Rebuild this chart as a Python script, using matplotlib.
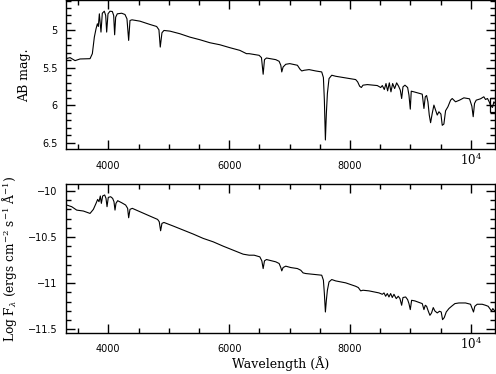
import matplotlib
matplotlib.use("Agg")
import matplotlib.pyplot as plt
from matplotlib.ticker import FixedLocator, MultipleLocator
from matplotlib.transforms import blended_transform_factory, ScaledTranslation

plt.rcParams['axes.unicode_minus'] = True
plt.rcParams['mathtext.fontset'] = 'dejavuserif'

# ---- data: AB magnitude spectrum (top panel) ----
wave_ab = [3301, 3367, 3450, 3532, 3698, 3736, 3769, 3797, 3819, 3835, 3852, 3879, 3901, 3934, 3957,
           3973, 3995, 4028, 4067, 4089, 4105, 4122, 4149, 4221, 4276, 4309, 4337, 4359, 4392, 4524,
           4689, 4800, 4838, 4860, 4888, 4921, 5020, 5185, 5350, 5516, 5681, 5846, 6011, 6177, 6287,
           6331, 6496, 6535, 6563, 6585, 6618, 6772, 6827, 6855, 6871, 6893, 6937, 7003, 7130, 7174,
           7202, 7240, 7323, 7433, 7532, 7560, 7576, 7593, 7609, 7626, 7653, 7698, 7764, 7929, 8094,
           8127, 8160, 8188, 8215, 8287, 8452, 8508, 8535, 8568, 8596, 8623, 8651, 8678, 8706, 8739,
           8772, 8805, 8833, 8855, 8877, 8910, 8954, 8976, 8998, 9014, 9058, 9196, 9224, 9246, 9268,
           9290, 9312, 9334, 9361, 9389, 9416, 9444, 9472, 9505, 9527, 9554, 9582, 9621, 9665, 9692,
           9747, 9813, 9885, 9978, 10017, 10039, 10061, 10089, 10160, 10215, 10243, 10276, 10304,
           10331, 10359, 10381, 10403]
ab_mag = [5.377, 5.363, 5.403, 5.381, 5.377, 5.310, 5.089, 4.978, 4.911, 4.947, 4.778, 5.022, 4.770, 4.743, 4.800,
          5.022, 4.778, 4.743, 4.747, 4.800, 5.058, 4.823, 4.778, 4.770, 4.787, 4.845, 5.133, 4.867, 4.858, 4.876,
          4.920, 4.947, 4.991, 5.222, 5.031, 5.000, 5.009, 5.044, 5.089, 5.124, 5.164, 5.191, 5.230, 5.266, 5.310,
          5.310, 5.332, 5.363, 5.585, 5.390, 5.368, 5.390, 5.412, 5.465, 5.554, 5.488, 5.452, 5.443, 5.465, 5.519,
          5.541, 5.532, 5.523, 5.541, 5.554, 5.629, 5.931, 6.463, 6.108, 5.842, 5.643, 5.598, 5.612, 5.634, 5.656,
          5.687, 5.745, 5.762, 5.731, 5.723, 5.736, 5.762, 5.736, 5.789, 5.709, 5.807, 5.700, 5.820, 5.709, 5.776,
          5.700, 5.745, 5.798, 5.909, 5.753, 5.731, 5.762, 5.864, 6.051, 5.811, 5.820, 5.851, 6.042, 5.886, 5.869,
          5.953, 6.130, 6.232, 6.108, 5.997, 6.064, 6.130, 6.086, 6.117, 6.267, 6.250, 6.072, 6.019, 5.931, 5.909,
          5.953, 5.931, 5.900, 5.913, 6.011, 6.152, 5.975, 5.931, 5.913, 5.886, 5.922, 5.909, 5.953,
          6.011, 6.028, 5.953, 5.975]

# ---- data: log F_lambda spectrum (bottom panel) ----
wave_fl = [3311, 3394, 3477, 3587, 3698, 3753, 3797, 3824, 3846, 3868, 3885, 3907, 3940, 3962, 3979,
           4000, 4039, 4072, 4094, 4111, 4127, 4155, 4221, 4287, 4320, 4337, 4359, 4397, 4524, 4689,
           4816, 4843, 4866, 4888, 4921, 5075, 5240, 5406, 5571, 5736, 5901, 6067, 6232, 6331,
           6414, 6508, 6541, 6563, 6585, 6618, 6772, 6827, 6855, 6871, 6893, 6937, 7020, 7130, 7185,
           7224, 7268, 7378, 7532, 7560, 7576, 7593, 7609, 7626, 7653, 7698, 7764, 7929, 8094, 8138,
           8177, 8215, 8315, 8480, 8535, 8563, 8590, 8618, 8645, 8673, 8700, 8728, 8766, 8799, 8827,
           8855, 8877, 8921, 8954, 8976, 8998, 9020, 9075, 9196, 9224, 9246, 9268, 9295, 9323, 9350,
           9378, 9405, 9444, 9482, 9510, 9532, 9560, 9593, 9637, 9681, 9736, 9802, 9912, 9995, 10022,
           10044, 10066, 10105, 10188, 10243, 10287, 10315, 10342, 10364, 10397]
log_flux = [-10.152, -10.170, -10.207, -10.217, -10.243, -10.199, -10.134, -10.091, -10.116, -10.054, -10.134, -10.054, -10.043, -10.080, -10.170,
            -10.069, -10.062, -10.080, -10.116, -10.207, -10.134, -10.105, -10.127, -10.152, -10.188, -10.290, -10.199, -10.188, -10.225, -10.272,
            -10.308, -10.333, -10.431, -10.351, -10.341, -10.380, -10.424, -10.467, -10.514, -10.551, -10.598, -10.641, -10.685, -10.696,
            -10.696, -10.714, -10.757, -10.841, -10.757, -10.743, -10.768, -10.786, -10.830, -10.866, -10.830, -10.815, -10.830, -10.841, -10.859,
            -10.888, -10.895, -10.902, -10.913, -10.967, -11.112, -11.312, -11.185, -11.076, -10.986, -10.960, -10.975, -10.996, -11.033, -11.047,
            -11.083, -11.076, -11.083, -11.105, -11.120, -11.105, -11.141, -11.112, -11.149, -11.112, -11.155, -11.120, -11.167, -11.141, -11.167,
            -11.239, -11.155, -11.149, -11.178, -11.221, -11.286, -11.185, -11.192, -11.221, -11.286, -11.239, -11.250, -11.301, -11.348, -11.322,
            -11.264, -11.301, -11.322, -11.304, -11.312, -11.395, -11.373, -11.312, -11.275, -11.250, -11.221, -11.214, -11.214, -11.228, -11.275,
            -11.312, -11.250, -11.228, -11.228, -11.239, -11.250, -11.275, -11.301, -11.275, -11.301]

# open square marker seen at the right edge of the top panel
marker_wave = [10433]
marker_mag = [5.99]

xticks = [4000, 6000, 8000, 10000]
xticklabels = ['4000', '6000', '8000', '']
last_xlabel = '$10^4$'
ab_ticks = [5, 5.5, 6, 6.5]
ab_ticklabels = ['5', '5.5', '6', '6.5']
fl_ticks = [-10, -10.5, -11, -11.5]
fl_ticklabels = ['\u221210', '\u221210.5', '\u221211', '\u221211.5']

W, H = 496, 374
fig = plt.figure(figsize=(W / 100, H / 100), dpi=100)
ax1 = fig.add_axes([66 / W, 1 - 149.5 / H, 429 / W, 149 / H])
ax2 = fig.add_axes([66 / W, 1 - 333.3 / H, 429 / W, 149.3 / H])

serif = 'DejaVu Serif'

def style(ax, yticks, yticklabels, yminor):
    ax.set_xlim(3300, 10400)
    ax.xaxis.set_major_locator(FixedLocator(xticks))
    ax.set_xticklabels(xticklabels)
    ax.xaxis.set_minor_locator(MultipleLocator(500))
    ax.yaxis.set_major_locator(FixedLocator(yticks))
    ax.set_yticklabels(yticklabels)
    ax.yaxis.set_minor_locator(MultipleLocator(yminor))
    ax.tick_params(which='both', direction='in', top=True, right=True, width=1.0, colors='black')
    ax.tick_params(which='major', length=6.5)
    ax.tick_params(which='minor', length=3.3)
    ax.tick_params(axis='x', which='major', pad=8, labelsize=7)
    ax.tick_params(axis='y', which='major', pad=6, labelsize=7)
    tr = blended_transform_factory(ax.transData, ax.transAxes) + \
        ScaledTranslation(0, -11 / 100, fig.dpi_scale_trans)
    ax.text(xticks[-1], 0, last_xlabel, transform=tr, ha='center', va='center',
            fontsize=8.5, family=serif)
    for s in ax.spines.values():
        s.set_linewidth(1.0)

ax1.plot(wave_ab, ab_mag, color='black', lw=0.8)
ax1.plot(marker_wave, marker_mag, marker='s', ms=10.5, mfc='none', mec='black', mew=0.9,
         linestyle='none', clip_on=False)
ax1.set_ylim(6.59, 4.60)
style(ax1, ab_ticks, ab_ticklabels, 0.1)
ax1.set_ylabel('AB mag.', family=serif, fontsize=9)
ax1.yaxis.set_label_coords((31 - 66) / 429, 0.5)

ax2.plot(wave_fl, log_flux, color='black', lw=0.8)
ax2.set_ylim(-11.543, -9.924)
style(ax2, fl_ticks, fl_ticklabels, 0.1)
ax2.set_ylabel(r'Log F$_\lambda$ (ergs cm$^{-2}$ s$^{-1}$ Å$^{-1}$)', family=serif, fontsize=8.7)
ax2.yaxis.set_label_coords((19.5 - 66) / 429, 0.5)
ax2.set_xlabel('Wavelength (Å)', family=serif, fontsize=9)
ax2.xaxis.set_label_coords(0.5, (333.3 - 356) / 149.3)

fig.savefig('out.png', dpi=100)
